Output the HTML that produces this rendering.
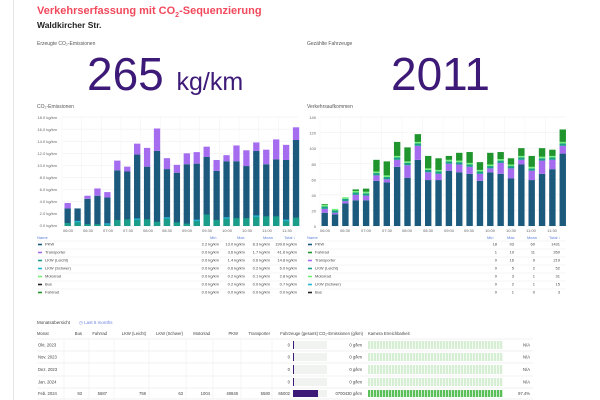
<!DOCTYPE html>
<html><head><meta charset="utf-8"><style>
html,body{margin:0;padding:0;background:#fff;width:600px;height:400px;overflow:hidden;font-family:"Liberation Sans",sans-serif}
.a{position:absolute;white-space:nowrap}
</style></head><body>
<div class="a" style="left:13px;top:0;width:1px;height:400px;background:#e6e6e6"></div>
<div class="a" style="left:37px;top:5px;font-size:11px;font-weight:bold;color:#f2495c">Verkehrserfassung mit CO<sub style="font-size:7px">2</sub>-Sequenzierung</div>
<div class="a" style="left:37px;top:20px;font-size:8.5px;font-weight:bold;color:#222">Waldkircher Str.</div>
<div class="a" style="left:37px;top:41px;font-size:5px;color:#555">Erzeugte CO₂-Emissionen</div>
<div class="a" style="left:307px;top:41px;font-size:5px;color:#555">Gezählte Fahrzeuge</div>
<div class="a" style="left:87px;top:48px;font-size:46px;color:#3d1a78;line-height:52px">265 <span style="font-size:25px">kg/km</span></div>
<div class="a" style="left:391px;top:48px;font-size:46px;color:#3d1a78;line-height:52px">2011</div>
<div class="a" style="left:37px;top:104px;font-size:5px;color:#555">CO₂-Emissionen</div>
<div class="a" style="left:307px;top:104px;font-size:5px;color:#555">Verkehrsaufkommen</div>
<svg class="a" style="left:0;top:0" width="600" height="400" id="s" font-family="Liberation Sans, sans-serif">
<g font-size="4" fill="#666" text-anchor="end">
<text x="57" y="119">18.0 kg/km</text><text x="57" y="131">16.0 kg/km</text><text x="57" y="143">14.0 kg/km</text><text x="57" y="155">12.0 kg/km</text><text x="57" y="167">10.0 kg/km</text><text x="57" y="179">8.0 kg/km</text><text x="57" y="191">6.0 kg/km</text><text x="57" y="203">4.0 kg/km</text><text x="57" y="215">2.0 kg/km</text><text x="57" y="227">0.0 kg/km</text>
<text x="316" y="119">140</text><text x="316" y="134.5">120</text><text x="316" y="150">100</text><text x="316" y="166">80</text><text x="316" y="181.5">60</text><text x="316" y="197">40</text><text x="316" y="212.5">20</text><text x="316" y="228">0</text>
</g>
<g font-size="4" fill="#666" text-anchor="middle">
<text x="68" y="232">06:00</text><text x="88" y="232">06:30</text><text x="108" y="232">07:00</text><text x="128" y="232">07:30</text><text x="148" y="232">08:00</text><text x="167" y="232">08:30</text><text x="187" y="232">09:00</text><text x="207" y="232">09:30</text><text x="227" y="232">10:00</text><text x="247" y="232">10:30</text><text x="267" y="232">11:00</text><text x="287" y="232">11:30</text>
<text x="325" y="232">06:00</text><text x="345" y="232">06:30</text><text x="366" y="232">07:00</text><text x="387" y="232">07:30</text><text x="407" y="232">08:00</text><text x="428" y="232">08:30</text><text x="449" y="232">09:00</text><text x="469" y="232">09:30</text><text x="490" y="232">10:00</text><text x="511" y="232">10:30</text><text x="531" y="232">11:00</text><text x="552" y="232">11:30</text>
</g>
<g font-size="4" fill="#5b7fd9">
<text x="37" y="239">Name</text><text x="210" y="239">Min</text><text x="237" y="239">Max</text><text x="263" y="239">Mean</text><text x="284" y="239">Total ↓</text>
<text x="307" y="239">Name</text><text x="487" y="239">Min</text><text x="507" y="239">Max</text><text x="527" y="239">Mean</text><text x="549" y="239">Total ↓</text>
</g>
<g font-size="4" fill="#444" id="leg"></g>
<text x="37" y="324" font-size="4.5" fill="#444">Monatsübersicht</text>
<text x="79" y="324" font-size="4.5" fill="#6b7fe0">◷ Last 5 months</text>
<g font-size="4.2" fill="#444" id="tb"></g>
</svg>
<script>
var s=document.getElementById('s'),NS='http://www.w3.org/2000/svg';
function el(t,a,p){var e=document.createElementNS(NS,t);for(var k in a)e.setAttribute(k,a[k]);(p||s).appendChild(e);return e}
function grid(x0,x1,y0,y1,n){for(var i=0;i<=n;i++){var y=y1-(y1-y0)*i/n;el('line',{x1:x0,x2:x1,y1:y,y2:y,stroke:'#ececec','stroke-width':0.5})}for(var j=0;j<12;j++){var x=x0+(x1-x0)*j/12;el('line',{x1:x,x2:x,y1:y0,y2:y1,stroke:'#f2f2f2','stroke-width':0.5})}}
grid(62,298,117,226,9);grid(320,566,117,226,7);
var C={pkw:'#1c5a7d',tr:'#a66cf0',lkl:'#1a9e8a',lks:'#26b5d0',mot:'#73f07a',bus:'#222',fr:'#20952e'};
var L=[[3.8,2.9],[2.9,2.9],[5.0,4.5],[6.2,5.0],[5.6,4.7],[10.8,9.2],[9.8,9.0],[13.6,11.8],[12.9,9.8],[16.1,12.4],[11.2,9.4],[10.1,8.8],[12.0,10.2],[12.2,10.3],[13.1,11.4],[10.9,9.1],[11.7,10.7],[13.3,10.7],[12.5,9.9],[13.8,12.4],[12.6,10.2],[14.3,11.0],[13.4,10.9],[16.3,14.2]];
var ls=[0.5,0.6,0.3,0.3,0.2,1.0,1.1,1.0,1.1,0.7,1.2,0.6,0.4,0.8,1.9,1.0,1.2,1.3,1.3,1.5,1.6,1.6,0.8,1.4];
L.forEach(function(v,i){var x=64.5+i*9.93,k=109/18,b=226;
el('rect',{x:x,y:b-v[1]*k,width:6.3,height:(v[1])*k,fill:C.pkw});
el('rect',{x:x,y:b-v[0]*k,width:6.3,height:(v[0]-v[1])*k,fill:C.tr});
el('rect',{x:x,y:b-ls[i]*k,width:6.3,height:ls[i]*k,fill:C.lkl});
if(i%3==1)el('rect',{x:x,y:b-ls[i]*k-1.5,width:6.3,height:1.5,fill:C.lks});});
var R=[[28,17,22],[20,15,17],[36,29,32],[47,33,40],[48,33,39],[85,58,65],[83,56,60],[108,76,85],[101,62,78],[118,85,103],[90,59,69],[87,59,67],[90,71,80],[94,69,79],[95,67,76],[82,58,67],[94,69,74],[95,67,81],[87,61,74],[100,79,85],[90,59,71],[100,67,84],[98,73,85],[124,93,103]];
R.forEach(function(v,i){var x=321.5+i*10.35,k=109/140,b=226;
el('rect',{x:x,y:b-v[1]*k,width:6.4,height:v[1]*k,fill:C.pkw});
el('rect',{x:x,y:b-v[2]*k,width:6.4,height:(v[2]-v[1])*k,fill:C.tr});
el('rect',{x:x,y:b-(v[2]+3)*k,width:6.4,height:3*k,fill:C.lkl});
el('rect',{x:x,y:b-(v[2]+5)*k,width:6.4,height:2*k,fill:C.mot});
el('rect',{x:x,y:b-v[0]*k,width:6.4,height:Math.max(0,(v[0]-v[2]-5))*k,fill:C.fr});});
var g=document.getElementById('leg');
var LR=[[C.pkw,'PKW','2.2 kg/km','13.0 kg/km','8.3 kg/km','199.6 kg/km'],[C.tr,'Transporter','0.0 kg/km','3.6 kg/km','1.7 kg/km','41.6 kg/km'],[C.lkl,'LKW (Leicht)','0.0 kg/km','1.4 kg/km','0.6 kg/km','14.8 kg/km'],[C.lks,'LKW (Schwer)','0.0 kg/km','0.6 kg/km','0.2 kg/km','6.0 kg/km'],[C.mot,'Motorrad','0.0 kg/km','0.2 kg/km','0.1 kg/km','2.8 kg/km'],[C.bus,'Bus','0.0 kg/km','0.2 kg/km','0.0 kg/km','0.7 kg/km'],[C.fr,'Fahrrad','0.0 kg/km','0.0 kg/km','0.0 kg/km','0.0 kg/km']];
var RR=[[C.pkw,'PKW','18','93','60','1431'],[C.fr,'Fahrrad','1','19','11','260'],[C.tr,'Transporter','0','16','9','219'],[C.lkl,'LKW (Leicht)','0','5','2','52'],[C.mot,'Motorrad','0','3','1','31'],[C.lks,'LKW (Schwer)','0','2','1','15'],[C.bus,'Bus','0','1','0','3']];
function leg(rows,x0,xs,xe){rows.forEach(function(r,i){var y=245.5+i*8;
el('line',{x1:x0,x2:xe,y1:y-4.5,y2:y-4.5,stroke:'#ececec','stroke-width':0.5});
el('rect',{x:x0+1,y:y-1.8,width:4,height:1.6,fill:r[0]});
var t=el('text',{x:x0+8,y:y},g);t.textContent=r[1];
for(var j=0;j<4;j++){var t2=el('text',{x:xs[j],y:y,'text-anchor':'end'},g);t2.textContent=r[2+j]}})}
leg(LR,37,[219,245,270,297],298);leg(RR,307,[497,514,535,560],566);
var tb=document.getElementById('tb');
function tx(x,y,s,a,c){var t=el('text',{x:x,y:y,'text-anchor':a||'start'},tb);t.textContent=s;if(c)t.setAttribute('fill',c);return t}
var hy=335;
[['Monat',37,'start'],['Bus',82,'end'],['Fahrrad',107,'end'],['LKW (Leicht)',146,'end'],['LKW (Schwer)',183,'end'],['Motorrad',210,'end'],['PKW',238,'end'],['Transporter',270,'end'],['Fahrzeuge (gesamt)',318,'end'],['CO₂-Emissionen (g/km)',363,'end'],['Kamera Erreichbarkeit',368,'start']].forEach(function(h){tx(h[1],hy,h[0],h[2])});
var lines=[339,351,363,376,388,399];
lines.forEach(function(y){el('line',{x1:37,x2:533,y1:y,y2:y,stroke:'#e4e4e4','stroke-width':0.6})});
[64,89,114,149,186,213,241,272].forEach(function(x){el('line',{x1:x,x2:x,y1:339,y2:399,stroke:'#ececec','stroke-width':0.5})});
var mon=['Okt. 2023','Nov. 2023','Dez. 2023','Jan. 2024','Feb. 2024'];
mon.forEach(function(m,i){var y0=lines[i],y1=lines[i+1],yc=(y0+y1)/2+1.5;
tx(38,yc,m);
el('rect',{x:293,y:y0+2,width:34,height:y1-y0-4,fill:'#f1f3f1'});
var last=i==4;
el('rect',{x:293,y:y0+2,width:last?25:1,height:y1-y0-4,fill:'#3d1a78'});
tx(290,yc,last?'65002':'0','end');
tx(362,yc,last?'0700430 g/km':'0 g/km','end');
for(var k=0;k<45;k++)el('rect',{x:368+k*3,y:y0+2,width:2.3,height:y1-y0-4,fill:last?'#5bc05a':'#d6efd4'});
tx(530,yc,last?'97.4%':'N/A','end');
if(last){[['93',82],['5687',107],['759',146],['63',183],['1004',210],['49848',238],['5580',270]].forEach(function(v){tx(v[1],yc,v[0],'end')})}
});
</script>
</body></html>
